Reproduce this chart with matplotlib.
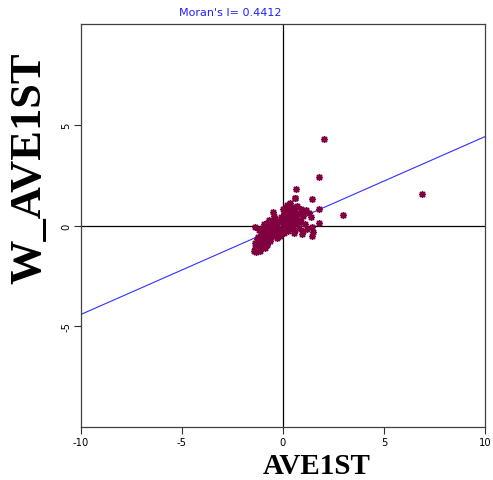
import matplotlib
matplotlib.use("Agg")
import matplotlib.pyplot as plt
import numpy as np

# Data
ave1st = [
    -1.45, -1.40, -1.35, -1.30, -1.25, -1.20, -1.15, -1.10, -1.05, -1.00, -0.95, -0.90,
    -0.85, -0.80, -0.75, -0.70, -0.65, -1.38, -1.22, -0.98, -1.12, -0.88, -1.30,
    -1.40, -1.20, -1.05, -0.95, -0.85, -0.80, -0.75, -0.70, -0.65, -0.60, -0.55, -0.50,
    -0.50, -0.45, -0.40, -0.35, -0.30, -0.25, -0.20, -0.15, -0.10, -0.05, 0.00, 0.05,
    0.10, 0.15, 0.20, 0.25, 0.30, -0.60, -0.45, -0.30, -0.90, -0.20, 0.35,
    0.05, 0.10, 0.15, 0.20, 0.25, 0.30, 0.35, 0.40, 0.45, 0.50, 0.55, 0.60, 0.65, 0.70,
    0.75, 0.64, 0.80, 0.30, -0.05, 0.00,
    0.40, 0.50, 0.60, 0.70, 0.80, 0.90, 1.00, 1.10, 0.95, 0.55, 0.85,
    0.90, 1.00, 1.30, 1.44, 1.78, 1.39, 1.78, 1.44, 1.49, 1.45, 1.20, 2.03, 1.78, 6.88,
    2.97, 0.59, 1.00, 1.15,
    -1.10, -0.95, -0.78, -0.62, -0.48, -0.35, -0.22, -0.08, 0.18, 0.28, -1.00, -0.70,
]
w_ave1st = [
    -1.25, -1.10, -1.30, -0.95, -1.15, -0.80, -1.00, -0.70, -0.90, -1.05, -0.60, -0.80,
    -0.50, -0.95, -0.65, -0.40, -0.75, -0.85, -0.55, -0.35, -1.25, -1.10, -0.65,
    -0.05, -0.20, -0.10, 0.05, -0.30, 0.10, -0.15, 0.25, -0.45, 0.00, -0.25, 0.15,
    0.66, -0.40, 0.30, -0.10, 0.05, -0.30, 0.20, -0.50, 0.40, -0.20, 0.10, -0.35,
    0.30, -0.05, 0.15, -0.25, 0.05, -0.55, 0.45, -0.60, -0.20, -0.15, -0.15,
    0.60, 0.85, 0.45, 1.00, 0.70, 0.35, 1.10, 0.55, 0.90, 0.30, 0.75, 1.35, 0.50, 0.95,
    0.25, 1.82, 0.60, 0.95, 0.35, 0.80,
    -0.05, 0.10, -0.20, 0.05, -0.10, 0.15, -0.25, 0.05, -0.40, -0.35, 0.20,
    0.80, 0.62, 0.60, 1.31, 0.81, 0.40, 0.10, -0.05, -0.30, -0.50, -0.15, 4.29, 2.42, 1.57,
    0.51, 1.36, 0.45, 0.75,
    -0.45, -0.55, -0.30, -0.35, -0.20, -0.45, -0.40, -0.30, -0.10, 0.45, -0.75, -0.25,
]
morans_i = 0.4412
x_ticks = [-10, -5, 0, 5, 10]
y_ticks = [-5, 0, 5]

W, H = 493, 481
fig = plt.figure(figsize=(W / 100, H / 100), dpi=100)
ax = fig.add_axes([81 / W, 1 - 428 / H, (485 - 81) / W, (428 - 25) / H])

ax.set_xlim(-10, 10)
ax.set_ylim(-10, 10)

ax.axhline(0, color="black", lw=0.9, zorder=1)
ax.axvline(0, color="black", lw=0.9, zorder=1)

xs = np.array([-10, 10])
ax.plot(xs, morans_i * xs, color="#3030ff", lw=0.8, zorder=2)

ax.plot(ave1st, w_ave1st, linestyle="none", marker=(8, 2, 0), markersize=5,
        markeredgewidth=1.0, color="#800040", zorder=3)

tick_font = dict(family="DejaVu Sans", size=8, stretch="condensed")
ax.set_xticks(x_ticks)
ax.set_xticklabels([str(t) for t in x_ticks], **tick_font)
ax.set_yticks(y_ticks)
ax.set_yticklabels([str(t) for t in y_ticks], rotation=90, va="center", **tick_font)
ax.tick_params(direction="out", length=5, width=0.8, color="#303030", pad=2)

for s in ax.spines.values():
    s.set_color("#404040")
    s.set_linewidth(0.9)

fig.text(230 / W, 1 - 13 / H, "Moran's I= " + str(morans_i), color="#2020ff",
         ha="center", va="center", family="DejaVu Sans", size=8)
fig.text(317 / W, 1 - 466 / H, "AVE1ST", ha="center", va="center",
         family="Liberation Serif", weight="bold", size=21)
fig.text(29 / W, 1 - 168 / H, "W_AVE1ST", ha="center", va="center", rotation=90,
         family="Liberation Serif", weight="bold", size=32)

fig.savefig("out.png", dpi=100)
